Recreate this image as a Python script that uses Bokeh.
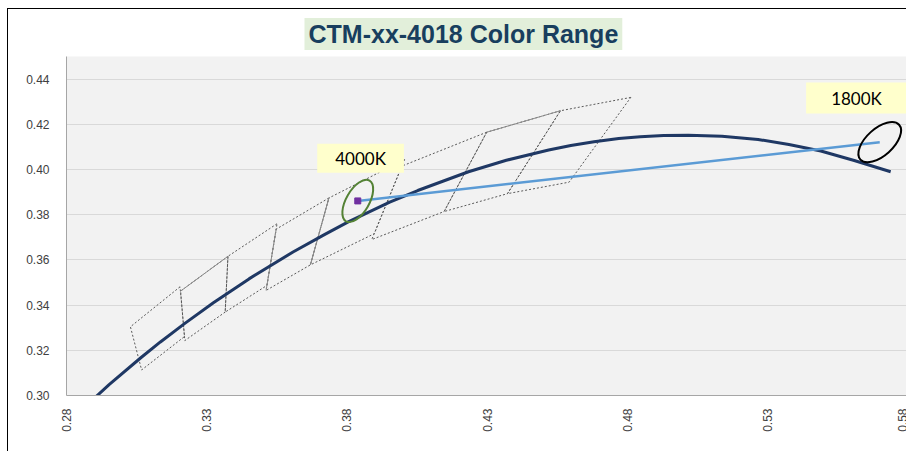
import math
from bokeh.plotting import figure
from bokeh.models import FixedTicker, NumeralTickFormatter, Label, Range1d, Title
from bokeh.embed import file_html
from bokeh.resources import INLINE

# ---- data ----
title_text = "CTM-xx-4018 Color Range"

x_ticks = [0.28, 0.33, 0.38, 0.43, 0.48, 0.53, 0.58]
y_ticks = [0.30, 0.32, 0.34, 0.36, 0.38, 0.40, 0.42, 0.44]

# black-body (Planckian) locus
locus_x = [0.2866, 0.2952, 0.3064, 0.3135, 0.3221, 0.3324, 0.3451, 0.3608,
           0.3720, 0.3805, 0.3953, 0.4053, 0.4234, 0.4369, 0.4520, 0.4599,
           0.4682, 0.4770, 0.4847, 0.4930, 0.5018, 0.5138, 0.5267, 0.5377,
           0.5491, 0.5610, 0.5740]
locus_y = [0.2950, 0.3048, 0.3166, 0.3237, 0.3318, 0.3410, 0.3516, 0.3635,
           0.3712, 0.3768, 0.3856, 0.3907, 0.3990, 0.4041, 0.4086, 0.4106,
           0.4123, 0.4137, 0.4145, 0.4150, 0.4152, 0.4147, 0.4133, 0.4111,
           0.4082, 0.4040, 0.3990]

# ANSI quadrangles: corners top-right, top-left, bottom-left, bottom-right
quad_names = ["6500K", "5700K", "5000K", "4500K", "4000K", "3500K", "3000K", "2700K"]
quad_x = [
    [0.3205, 0.3028, 0.3068, 0.3221],
    [0.3376, 0.3207, 0.3222, 0.3366],
    [0.3551, 0.3376, 0.3366, 0.3515],
    [0.3736, 0.3548, 0.3512, 0.3670],
    [0.4006, 0.3736, 0.3670, 0.3898],
    [0.4299, 0.3996, 0.3889, 0.4147],
    [0.4562, 0.4299, 0.4147, 0.4373],
    [0.4813, 0.4562, 0.4373, 0.4593],
]
quad_y = [
    [0.3481, 0.3304, 0.3113, 0.3261],
    [0.3616, 0.3462, 0.3243, 0.3369],
    [0.3760, 0.3616, 0.3369, 0.3487],
    [0.3874, 0.3736, 0.3465, 0.3578],
    [0.4044, 0.3874, 0.3578, 0.3716],
    [0.4165, 0.4015, 0.3690, 0.3814],
    [0.4260, 0.4165, 0.3814, 0.3893],
    [0.4319, 0.4260, 0.3893, 0.3944],
]
# edges (quad index, edge index) drawn as solid lines
solid_edges = [(1, 0), (3, 1), (3, 3), (6, 0)]

# tuning range points (4000K -> 1800K)
range_labels = ["4000K", "1800K"]
range_x = [0.3839, 0.5701]
range_y = [0.3861, 0.4121]

# ---- figure ----
p = figure(width=899, height=443, output_backend="svg", toolbar_location=None,
           x_range=Range1d(0.28, 0.58), y_range=Range1d(0.30, 0.45),
           min_border_left=58, min_border_top=46, min_border_bottom=57,
           min_border_right=0)
p.styles = {"margin-left": "7px", "margin-top": "8px",
            "border-left": "1px solid #000000", "border-top": "1px solid #000000"}
p.background_fill_color = "#f2f2f2"
p.border_fill_color = "#ffffff"
p.outline_line_color = None

p.title = Title(text=title_text, align="left", offset=238, standoff=13,
                text_font="Liberation Sans", text_font_style="bold",
                text_font_size="25px", text_color="#183e5e",
                background_fill_color="#e2efda",
                padding=dict(left=4, right=4, top=2, bottom=2))

p.xgrid.visible = False
p.ygrid.grid_line_color = "#d9d9d9"
p.ygrid.grid_line_width = 1

for ax in (p.xaxis, p.yaxis):
    ax.major_tick_line_color = None
    ax.minor_tick_line_color = None
    ax.axis_line_color = "#a6a6a6"
    ax.major_label_text_font = "Liberation Sans"
    ax.major_label_text_font_size = "12px"
    ax.major_label_text_color = "#404040"
    ax.formatter = NumeralTickFormatter(format="0.00")

p.xaxis.ticker = FixedTicker(ticks=x_ticks)
p.yaxis.ticker = FixedTicker(ticks=y_ticks)
p.ygrid.ticker = FixedTicker(ticks=y_ticks)
p.xaxis.major_label_orientation = math.pi / 2
p.xaxis.major_label_standoff = 7
p.yaxis.major_label_standoff = 11

# quadrangles (dotted)
closed_x = [q + [q[0]] for q in quad_x]
closed_y = [q + [q[0]] for q in quad_y]
p.multi_line(closed_x, closed_y, line_color="#595959", line_width=1, line_dash="2 2")

# solid edges
sx, sy = [], []
for qi, ei in solid_edges:
    a, b = ei, (ei + 1) % 4
    sx.append([quad_x[qi][a], quad_x[qi][b]])
    sy.append([quad_y[qi][a], quad_y[qi][b]])
p.multi_line(sx, sy, line_color="#8c8c8c", line_width=1)

# Planckian locus
p.line(locus_x, locus_y, line_color="#1f3864", line_width=3, line_join="round")

# tuning line
p.line(range_x, range_y, line_color="#5b9bd5", line_width=2.5)

# ellipses
p.ellipse(x=range_x[0:1], y=range_y[0:1], width=47, height=23, angle=60,
          angle_units="deg", width_units="screen", height_units="screen",
          fill_color=None, line_color="#548235", line_width=2)
p.ellipse(x=range_x[1:2], y=range_y[1:2], width=52, height=27, angle=42,
          angle_units="deg", width_units="screen", height_units="screen",
          fill_color=None, line_color="#000000", line_width=2)

# start marker
p.scatter(range_x[0:1], range_y[0:1], marker="square", size=6,
          fill_color="#7030a0", line_color="#7030a0")

# labels
p.add_layout(Label(x=0.3849, y=0.4050, text=range_labels[0], text_align="center",
                   text_baseline="middle", text_font="Lato", text_font_size="17px",
                   text_color="#000000", background_fill_color="#ffffcc",
                   padding=dict(left=18, right=18, top=4, bottom=4)))
p.add_layout(Label(x=0.5618, y=0.4316, text=range_labels[1], text_align="center",
                   text_baseline="middle", text_font="Lato", text_font_size="17px",
                   text_color="#000000", background_fill_color="#ffffcc",
                   padding=dict(left=25, right=25, top=5, bottom=5)))

open("out.html", "w").write(file_html(p, INLINE))
